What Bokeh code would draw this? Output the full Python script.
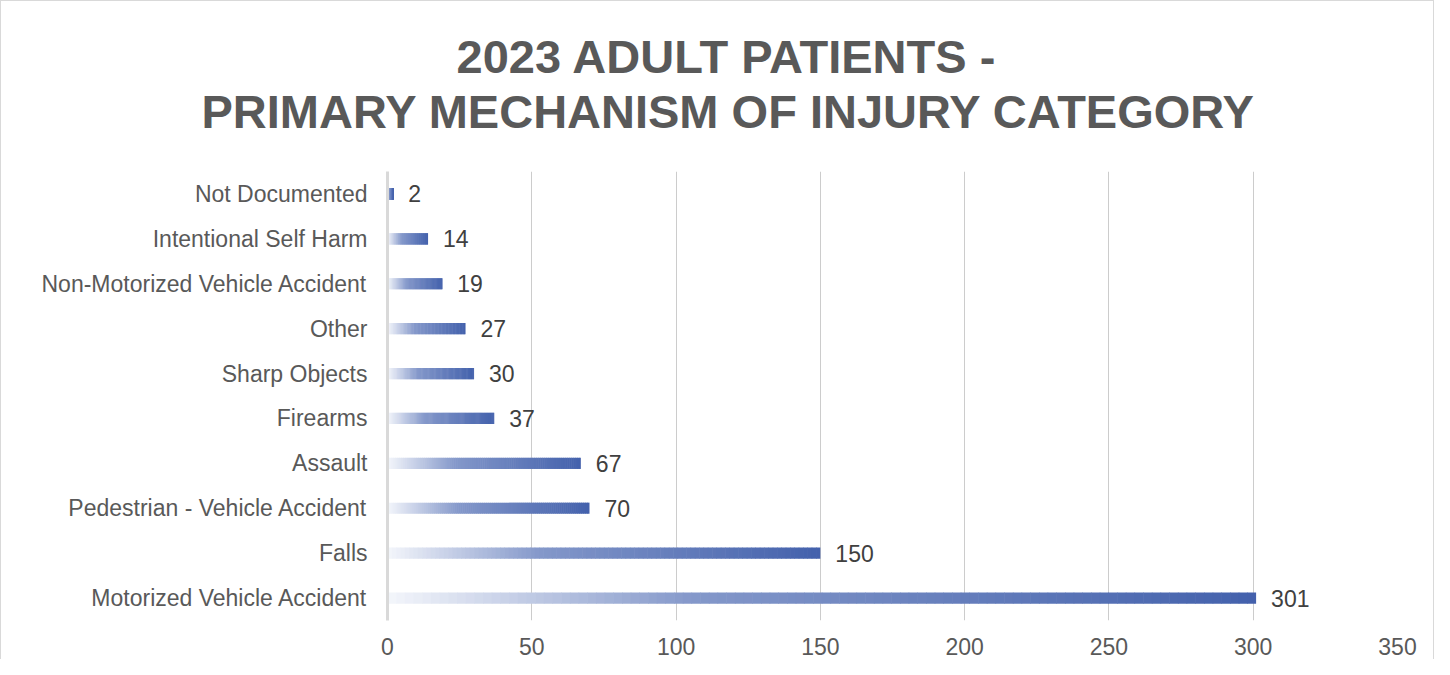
from bokeh.plotting import figure
from bokeh.models import ColumnDataSource, Range1d, FactorRange, Title
from bokeh.core.properties import value
from bokeh.embed import file_html
from bokeh.resources import INLINE

# ---- data ----
categories = [
    "Motorized Vehicle Accident",
    "Falls",
    "Pedestrian - Vehicle Accident",
    "Assault",
    "Firearms",
    "Sharp Objects",
    "Other",
    "Non-Motorized Vehicle Accident",
    "Intentional Self Harm",
    "Not Documented",
]
counts = [301, 150, 70, 67, 37, 30, 27, 19, 14, 2]
tick_values = [0, 50, 100, 150, 200, 250, 300, 350]
title_line1 = "2023 ADULT PATIENTS -"
title_line2 = "PRIMARY MECHANISM OF INJURY CATEGORY"

# gradient stops (fraction along each bar -> colour)
grad_stops = [(0.0, (0xF4, 0xF6, 0xFB)), (0.35, (0x84, 0x98, 0xCA)), (1.0, (0x43, 0x61, 0xAC))]

FONT = "Liberation Sans"
GREY = "#595959"

def grad_color(t):
    for (t0, c0), (t1, c1) in zip(grad_stops[:-1], grad_stops[1:]):
        if t <= t1:
            f = (t - t0) / (t1 - t0) if t1 > t0 else 0
            r, g, b = (round(a + (b_ - a) * f) for a, b_ in zip(c0, c1))
            return "#%02x%02x%02x" % (r, g, b)
    return "#%02x%02x%02x" % grad_stops[-1][1]

N = 100
seg = dict(y=[], left=[], right=[], color=[])
for cat, v in zip(categories, counts):
    for i in range(N):
        seg["y"].append(cat)
        seg["left"].append(v * i / N)
        r = v * (i + 1) / N
        seg["right"].append(r if i == N - 1 else r + 0.2)  # tiny overlap hides seams
        seg["color"].append(grad_color((i + 0.5) / N))
seg_src = ColumnDataSource(seg)
lab_src = ColumnDataSource(dict(y=categories, x=counts, t=[str(c) for c in counts]))

W, H = 1434, 659
ML, MR, MT, MB = 386, 38, 170, 40
p = figure(
    width=W, height=H,
    y_range=FactorRange(factors=categories, range_padding=0),
    x_range=Range1d(0, 350),
    output_backend="svg", toolbar_location=None,
    min_border_left=ML, min_border_right=MR, min_border_top=MT, min_border_bottom=MB,
)
p.title = None
p.outline_line_color = None
p.background_fill_color = "white"
p.border_fill_color = "white"

p.hbar(y="y", left="left", right="right", height=0.25, fill_color="color",
       line_color=None, source=seg_src)

p.text(x="x", y="y", text="t", source=lab_src, x_offset=15,
       text_baseline="middle", text_align="left",
       text_font=value(FONT), text_font_size="23px", text_color="#404040")

# axes
p.xaxis.ticker = tick_values
p.xaxis.axis_line_color = None
p.xaxis.major_tick_line_color = None
p.xaxis.minor_tick_line_color = None
p.xaxis.major_tick_out = 0
p.xaxis.major_label_standoff = 17
p.xaxis.major_label_text_font = FONT
p.xaxis.major_label_text_font_size = "23px"
p.xaxis.major_label_text_color = GREY

p.yaxis.axis_line_color = "#d9d9d9"
p.yaxis.axis_line_width = 3
p.yaxis.major_tick_line_color = None
p.yaxis.minor_tick_line_color = None
p.yaxis.major_tick_out = 0
p.yaxis.major_label_standoff = 20
p.yaxis.major_label_text_font = FONT
p.yaxis.major_label_text_font_size = "23px"
p.yaxis.major_label_text_color = GREY

p.xgrid.grid_line_color = "#cccccc"
p.xgrid.grid_line_width = 1
p.xgrid.ticker = tick_values
p.ygrid.grid_line_color = None

# titles: left-aligned with offsets so that they are centred on the whole chart
TS = 47
t_common = dict(text_font=FONT, text_font_size=f"{TS}px", text_font_style="bold",
                text_color=GREY, standoff=0, align="left")
spacer = Title(text=" ", text_font_size="29px", standoff=0)
t2 = Title(text=title_line2, offset=-186, **t_common)
t1 = Title(text=title_line1, offset=69, **t_common)
p.add_layout(spacer, "above")
p.add_layout(t2, "above")
p.add_layout(t1, "above")

p.styles = {"border-left": "1px solid #d9d9d9", "border-top": "1px solid #d9d9d9",
            "border-right": "1px solid #d9d9d9"}

open("out.html", "w").write(file_html(p, INLINE))
